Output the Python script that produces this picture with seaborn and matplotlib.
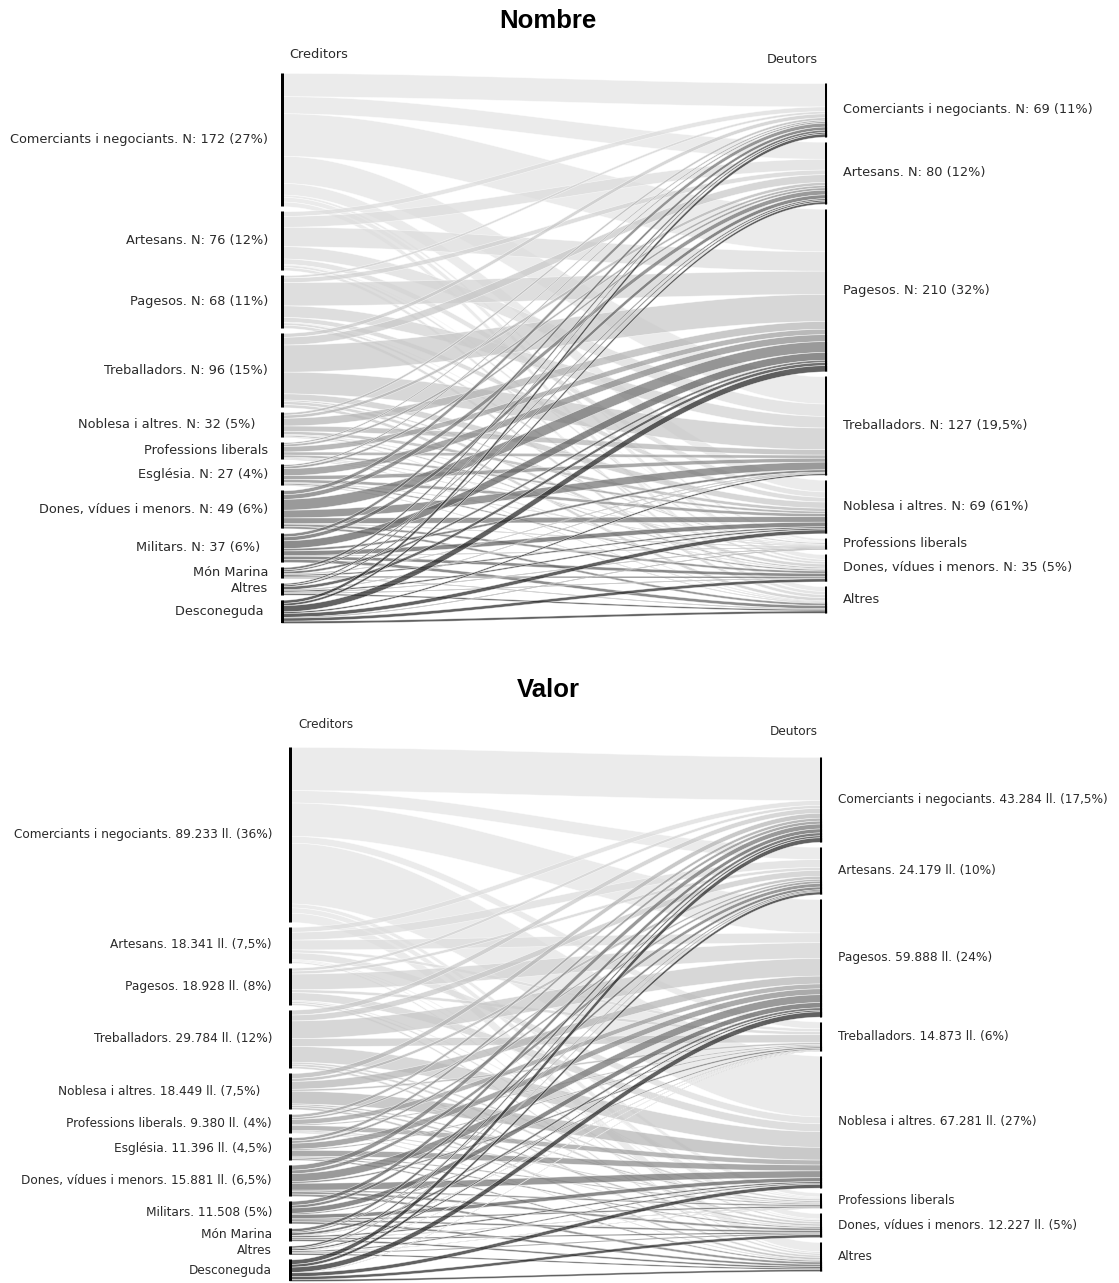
import numpy as np
import matplotlib
matplotlib.use("Agg")
import matplotlib.pyplot as plt
import seaborn as sns

# ---------------- data ----------------
creditors = ["Comerciants i negociants", "Artesans", "Pagesos", "Treballadors",
             "Noblesa i altres", "Professions liberals", "Església",
             "Dones, vídues i menors", "Militars", "Món Marina", "Altres", "Desconeguda"]
debtors = ["Comerciants i negociants", "Artesans", "Pagesos", "Treballadors",
           "Noblesa i altres", "Professions liberals", "Dones, vídues i menors", "Altres"]

nombre_left_labels = ["Comerciants i negociants. N: 172 (27%)", "Artesans. N: 76 (12%)",
                      "Pagesos. N: 68 (11%)", "Treballadors. N: 96 (15%)",
                      "Noblesa i altres. N: 32 (5%)   ", "Professions liberals",
                      "Església. N: 27 (4%)", "Dones, vídues i menors. N: 49 (6%)",
                      "Militars. N: 37 (6%)  ", "Món Marina", "Altres", "Desconeguda "]
nombre_right_labels = ["Comerciants i negociants. N: 69 (11%)", "Artesans. N: 80 (12%)",
                       "Pagesos. N: 210 (32%)", "Treballadors. N: 127 (19,5%)",
                       "Noblesa i altres. N: 69 (61%)", "Professions liberals",
                       "Dones, vídues i menors. N: 35 (5%)", "Altres"]
valor_left_labels = ["Comerciants i negociants. 89.233 ll. (36%)", "Artesans. 18.341 ll. (7,5%)",
                     "Pagesos. 18.928 ll. (8%)", "Treballadors. 29.784 ll. (12%)",
                     "Noblesa i altres. 18.449 ll. (7,5%)   ", "Professions liberals. 9.380 ll. (4%)",
                     "Església. 11.396 ll. (4,5%)", "Dones, vídues i menors. 15.881 ll. (6,5%)",
                     "Militars. 11.508 (5%)", "Món Marina", "Altres", "Desconeguda"]
valor_right_labels = ["Comerciants i negociants. 43.284 ll. (17,5%)", "Artesans. 24.179 ll. (10%)",
                      "Pagesos. 59.888 ll. (24%)", "Treballadors. 14.873 ll. (6%)",
                      "Noblesa i altres. 67.281 ll. (27%)", "Professions liberals",
                      "Dones, vídues i menors. 12.227 ll. (5%)", "Altres"]

# number of debts: rows = creditors, columns = debtors
nombre_flows = [
    [30, 22, 55, 35, 15, 3, 6, 6],
    [6, 14, 25, 16, 7, 1, 3, 4],
    [3, 6, 30, 15, 6, 1, 3, 4],
    [5, 10, 35, 28, 8, 2, 4, 4],
    [3, 4, 10, 7, 4, 1, 2, 1],
    [2, 3, 7, 4, 3, 1, 1, 1],
    [2, 3, 9, 5, 4, 1, 2, 1],
    [5, 6, 14, 10, 7, 1, 3, 3],
    [4, 5, 10, 3, 6, 1, 4, 4],
    [3, 2, 3, 1, 2, 0, 2, 1],
    [2, 2, 4, 1, 2, 1, 1, 2],
    [4, 3, 8, 2, 5, 1, 4, 3],
]
# value of debts (thousands of lliures): rows = creditors, columns = debtors
valor_flows = [
    [22.0, 6.3, 17.0, 3.5, 31.0, 2.0, 2.7, 4.7],
    [2.5, 4.0, 5.0, 1.5, 3.5, 0.5, 0.5, 0.8],
    [1.5, 1.5, 8.0, 1.5, 4.0, 0.5, 0.9, 1.0],
    [2.5, 3.0, 9.0, 4.0, 8.0, 1.0, 1.2, 1.1],
    [2.5, 1.5, 4.0, 1.0, 6.5, 0.8, 1.0, 1.1],
    [1.5, 1.0, 2.5, 0.6, 2.5, 0.5, 0.4, 0.4],
    [1.5, 1.2, 3.0, 0.6, 3.0, 0.6, 0.7, 0.8],
    [2.5, 1.8, 4.0, 0.9, 3.5, 0.8, 1.2, 1.2],
    [2.0, 1.4, 2.7, 0.6, 2.0, 0.8, 0.9, 1.1],
    [1.5, 0.6, 1.2, 0.3, 0.8, 0.3, 0.7, 0.9],
    [1.0, 0.5, 0.8, 0.2, 0.6, 0.2, 0.5, 0.7],
    [2.3, 1.4, 2.7, 0.2, 1.9, 0.0, 1.5, 1.0],
]

# ---------------- style ----------------
sns.set_theme(style="white")
plt.rcParams["font.family"] = ["DejaVu Sans"]
source_colors = sns.color_palette(["#e4e4e4", "#dcdcdc", "#d2d2d2", "#c8c8c8", "#b4b4b4",
                                   "#9e9e9e", "#8a8a8a", "#747474", "#606060", "#4c4c4c",
                                   "#383838", "#262626"])
W, H = 1119, 1283
fig = plt.figure(figsize=(W / 100, H / 100), dpi=100)
fig.patch.set_facecolor("white")
GAP = 0.0103
TXT = "#2a2a2a"


def draw_panel(rect_px, flows, left_labels, right_labels, title, title_y,
               left_off, right_off, cred_off, deut_off, fs):
    x0, x1, y0, y1 = rect_px
    ax = fig.add_axes([x0 / W, 1 - y1 / H, (x1 - x0) / W, (y1 - y0) / H])
    flows = np.asarray(flows, float)
    ns, nd = flows.shape
    out_tot = flows.sum(1)
    in_tot = flows.sum(0)
    total = flows.sum()
    gap = total * GAP
    h_left = total + gap * (ns - 1)
    h_right = total + gap * (nd - 1)
    ax.set_xlim(0, 1)
    ax.set_ylim(h_left, 0)
    ax.axis("off")
    left_tops = np.concatenate([[0], np.cumsum(out_tot + gap)[:-1]])
    right_tops = (h_left - h_right) / 2 + np.concatenate([[0], np.cumsum(in_tot + gap)[:-1]])

    xs = np.linspace(0, 1, 120)
    sm = 3 * xs ** 2 - 2 * xs ** 3
    for i in range(ns):
        for j in range(nd):
            w = flows[i, j]
            if w <= 0:
                continue
            ya = left_tops[i] + flows[i, :j].sum()
            yb = right_tops[j] + flows[:i, j].sum()
            top = ya + (yb - ya) * sm
            ax.fill_between(xs, top, top + w, facecolor=source_colors[i],
                            alpha=0.72, edgecolor="white", linewidth=0.4)

    ax.vlines(np.zeros(ns), left_tops, left_tops + out_tot, color="black", lw=3.6,
              capstyle="butt", zorder=5)
    ax.vlines(np.ones(nd), right_tops, right_tops + in_tot, color="black", lw=3.6,
              capstyle="butt", zorder=5)
    for i in range(ns):
        ax.annotate(left_labels[i], (0, left_tops[i] + out_tot[i] / 2), xytext=(left_off, 0),
                    textcoords="offset pixels", ha="right", va="center",
                    fontsize=fs, color=TXT)
    for j in range(nd):
        ax.annotate(right_labels[j], (1, right_tops[j] + in_tot[j] / 2), xytext=(right_off, 0),
                    textcoords="offset pixels", ha="left", va="center",
                    fontsize=fs, color=TXT)
    ax.annotate("Creditors", (0, 0), xytext=cred_off, textcoords="offset pixels",
                ha="left", va="center", fontsize=fs, color=TXT)
    ax.annotate("Deutors", (1, right_tops[0]), xytext=deut_off, textcoords="offset pixels",
                ha="right", va="center", fontsize=fs, color=TXT)
    fig.text(548 / W, 1 - title_y / H, title, ha="center", va="center", fontsize=18.5,
             fontweight="bold", family=["Liberation Sans", "DejaVu Sans"], color="black")


draw_panel((281, 827, 73, 623), nombre_flows, nombre_left_labels,
           nombre_right_labels, "Nombre", 21, -13, 16, (8, 18), (-9, 24), 9.3)
draw_panel((289, 822, 747, 1281), valor_flows, valor_left_labels,
           valor_right_labels, "Valor", 690, -17, 16, (9, 22), (-4, 25), 8.7)

fig.savefig("out.png", dpi=100, facecolor="white")
